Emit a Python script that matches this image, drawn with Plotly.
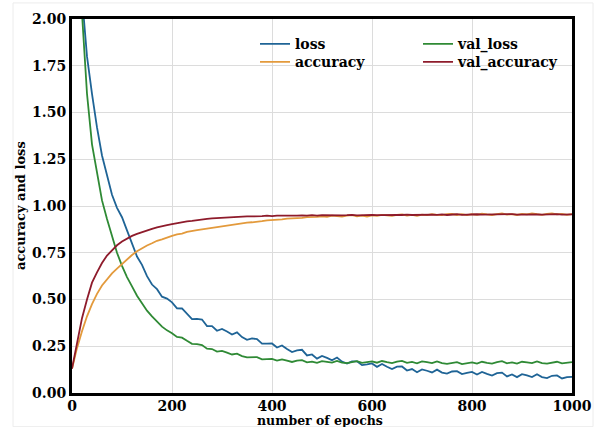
import plotly.graph_objects as go

epochs = list(range(0, 1001, 10))

loss = [3.30, 2.60, 2.12, 1.80, 1.60, 1.42, 1.27, 1.16, 1.06, 0.99,
        0.94, 0.87, 0.80, 0.73, 0.685, 0.625, 0.58, 0.555, 0.515, 0.505,
        0.485, 0.453, 0.452, 0.422, 0.395, 0.396, 0.393, 0.358, 0.358, 0.333,
        0.343, 0.329, 0.313, 0.324, 0.299, 0.284, 0.292, 0.288, 0.264, 0.264,
        0.265, 0.243, 0.254, 0.235, 0.219, 0.228, 0.231, 0.201, 0.206, 0.184,
        0.198, 0.188, 0.175, 0.19, 0.168, 0.157, 0.169, 0.169, 0.149, 0.153,
        0.158, 0.14, 0.155, 0.14, 0.128, 0.141, 0.142, 0.12, 0.128, 0.111,
        0.126, 0.119, 0.11, 0.125, 0.109, 0.104, 0.115, 0.117, 0.101, 0.107,
        0.113, 0.099, 0.113, 0.102, 0.093, 0.106, 0.109, 0.089, 0.099, 0.085,
        0.101, 0.094, 0.085, 0.1, 0.085, 0.08, 0.092, 0.094, 0.078, 0.085,
        0.086]

val_loss = [3.20, 2.50, 2.03, 1.60, 1.33, 1.17, 1.03, 0.93, 0.84, 0.75,
            0.68, 0.62, 0.57, 0.52, 0.48, 0.44, 0.41, 0.38, 0.355, 0.335,
            0.32, 0.30, 0.296, 0.279, 0.263, 0.261, 0.256, 0.237, 0.235, 0.221,
            0.225, 0.216, 0.206, 0.21, 0.197, 0.19, 0.193, 0.192, 0.18, 0.181,
            0.182, 0.173, 0.18, 0.173, 0.166, 0.173, 0.176, 0.164, 0.168, 0.161,
            0.17, 0.167, 0.163, 0.172, 0.163, 0.16, 0.167, 0.17, 0.161, 0.165,
            0.169, 0.162, 0.171, 0.165, 0.16, 0.168, 0.172, 0.161, 0.166, 0.159,
            0.169, 0.165, 0.16, 0.169, 0.16, 0.156, 0.162, 0.165, 0.155, 0.159,
            0.164, 0.157, 0.167, 0.161, 0.157, 0.165, 0.17, 0.159, 0.164, 0.157,
            0.167, 0.164, 0.16, 0.169, 0.16, 0.157, 0.164, 0.167, 0.158, 0.162,
            0.165]

accuracy = [0.13, 0.24, 0.33, 0.41, 0.475, 0.53, 0.575, 0.61, 0.64, 0.665,
            0.69, 0.715, 0.738, 0.758, 0.775, 0.789, 0.801, 0.814, 0.822, 0.833,
            0.84, 0.848, 0.852, 0.861, 0.864, 0.871, 0.875, 0.879, 0.884, 0.889,
            0.892, 0.896, 0.9, 0.904, 0.906, 0.911, 0.913, 0.918, 0.919, 0.923,
            0.924, 0.929, 0.929, 0.933, 0.933, 0.937, 0.936, 0.94, 0.939, 0.942,
            0.945, 0.942, 0.949, 0.945, 0.943, 0.948, 0.951, 0.945, 0.949, 0.944,
            0.95, 0.947, 0.953, 0.95, 0.947, 0.952, 0.955, 0.949, 0.953, 0.948,
            0.954, 0.951, 0.957, 0.953, 0.951, 0.956, 0.958, 0.952, 0.956, 0.951,
            0.957, 0.953, 0.959, 0.955, 0.952, 0.957, 0.96, 0.954, 0.957, 0.952,
            0.958, 0.955, 0.96, 0.956, 0.953, 0.958, 0.961, 0.955, 0.958, 0.953,
            0.957]

val_accuracy = [0.13, 0.27, 0.40, 0.50, 0.59, 0.645, 0.695, 0.735, 0.765, 0.79,
                0.81, 0.826, 0.84, 0.851, 0.861, 0.87, 0.878, 0.886, 0.89, 0.898,
                0.903, 0.909, 0.912, 0.918, 0.92, 0.925, 0.928, 0.931, 0.934, 0.936,
                0.939, 0.94, 0.942, 0.941, 0.944, 0.945, 0.944, 0.947, 0.946, 0.948,
                0.946, 0.949, 0.948, 0.95, 0.947, 0.949, 0.95, 0.948, 0.951, 0.949,
                0.951, 0.95, 0.949, 0.952, 0.95, 0.951, 0.953, 0.95, 0.952, 0.951,
                0.953, 0.951, 0.952, 0.954, 0.951, 0.953, 0.952, 0.954, 0.952, 0.953,
                0.955, 0.952, 0.954, 0.953, 0.955, 0.952, 0.954, 0.956, 0.953, 0.955,
                0.953, 0.956, 0.954, 0.955, 0.953, 0.956, 0.954, 0.955, 0.957, 0.954,
                0.955, 0.953, 0.956, 0.955, 0.954, 0.956, 0.955, 0.957, 0.954, 0.956,
                0.955]

x_ticks = [0, 200, 400, 600, 800, 1000]
y_ticks = [0.0, 0.25, 0.5, 0.75, 1.0, 1.25, 1.5, 1.75, 2.0]

SERIF = "DejaVu Serif"

fig = go.Figure()
fig.add_trace(go.Scatter(x=epochs, y=loss, name="loss", mode="lines",
                         line=dict(color="#1f6496", width=1.8), legend="legend"))
fig.add_trace(go.Scatter(x=epochs, y=val_loss, name="val_loss", mode="lines",
                         line=dict(color="#2f8a35", width=1.8), legend="legend3"))
fig.add_trace(go.Scatter(x=epochs, y=accuracy, name="accuracy", mode="lines",
                         line=dict(color="#e39a3c", width=1.8), legend="legend2"))
fig.add_trace(go.Scatter(x=epochs, y=val_accuracy, name="val_accuracy", mode="lines",
                         line=dict(color="#8e1b2b", width=1.8), legend="legend4"))

legend_font = dict(family=SERIF, size=14, color="black", weight="bold")


def leg(x, y):
    return dict(x=x, y=y, xanchor="left", yanchor="top",
                bgcolor="rgba(0,0,0,0)", font=legend_font, itemwidth=30)


fig.update_layout(
    width=605, height=427,
    margin=dict(l=72, r=33, t=19, b=34),
    paper_bgcolor="white", plot_bgcolor="white",
    showlegend=True,
    legend=leg(0.366, 0.975),
    legend2=leg(0.366, 0.927),
    legend3=leg(0.692, 0.975),
    legend4=leg(0.692, 0.927),
    xaxis=dict(range=[0, 1000], tickvals=x_ticks, showgrid=True,
               gridcolor="#dcdcdc", gridwidth=1, zeroline=False,
               showline=True, linecolor="black", linewidth=3, mirror=True,
               ticks="", ticklabelstandoff=-2,
               tickfont=dict(family=SERIF, size=14, color="black", weight="bold")),
    yaxis=dict(range=[0, 2], tickvals=y_ticks, tickformat=".2f", showgrid=True,
               gridcolor="#dcdcdc", gridwidth=1, zeroline=False,
               showline=True, linecolor="black", linewidth=3, mirror=True,
               ticks="", tickfont=dict(family=SERIF, size=14, color="black", weight="bold")),
    annotations=[
        dict(text="number of epochs", xref="paper", yref="paper", x=0.496, y=-0.073,
             xanchor="center", yanchor="middle", showarrow=False,
             font=dict(family=SERIF, size=12.5, color="black", weight="bold")),
        dict(text="accuracy and loss", xref="paper", yref="paper", x=-0.104, y=0.5,
             xanchor="center", yanchor="middle", showarrow=False, textangle=-90,
             font=dict(family=SERIF, size=13, color="black", weight="bold")),
    ],
    shapes=[
        dict(type="rect", xref="paper", yref="paper", x0=-0.118, x1=1.042,
             y0=-0.09, y1=1.043, line=dict(color="#ececec", width=1), layer="below"),
    ],
)

fig.write_html("out.html")
